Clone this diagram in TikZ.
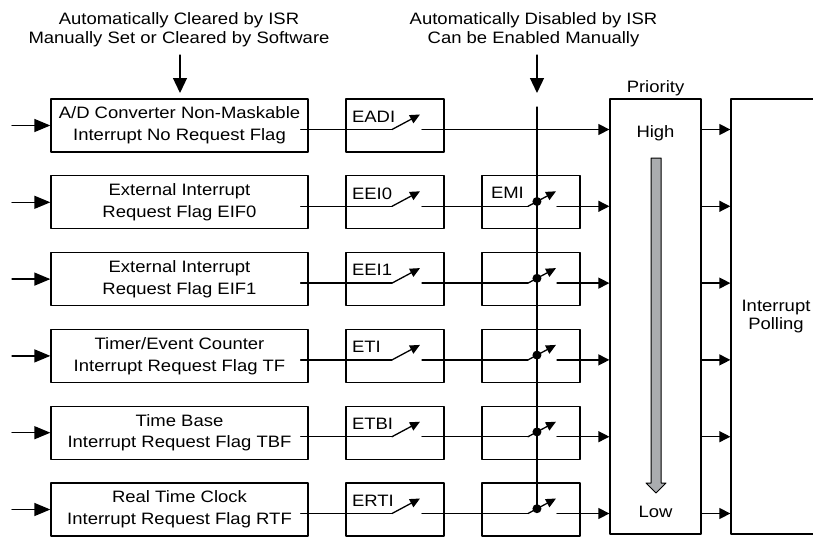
\documentclass[tikz,border=0pt]{standalone}
\usepackage{fontspec}
\setmainfont{Liberation Sans}[FakeStretch=1.12]
\usetikzlibrary{arrows.meta,calc}
\definecolor{prioGray}{RGB}{170,172,175}
\tikzset{
  flagbox/.style={draw, minimum width=257pt, minimum height=53pt, inner sep=0pt, align=center, font=\fontsize{16.5}{21.7}\selectfont},
  swbox/.style={draw, minimum width=98pt, minimum height=53pt, inner sep=0pt},
  swlabel/.style={anchor=base west, inner sep=0pt, font=\fontsize{16.5}{19}\selectfont},
  note/.style={align=center, inner sep=0pt, font=\fontsize{16.5}{19}\selectfont},
  tallbox/.style={draw, minimum width=91pt, minimum height=435pt, inner sep=0pt, align=center, font=\fontsize{16.5}{18}\selectfont},
  arr/.style={-{Triangle[length=11pt,width=11pt]}},
  inarr/.style={-{Triangle[length=16pt,width=13pt]}},
  bigarr/.style={-{Triangle[length=15pt,width=14pt]}},
  swarr/.style={-{Triangle[length=10pt,width=9pt]}}
}
\begin{document}
\begin{tikzpicture}[line cap=round,line join=round,x=1pt,y=-1pt,line width=1.3pt]
\clip (0,0) rectangle (813,538);
% notes on top
\node[note] (clrnote) at (179,29.5) {Automatically Cleared by ISR\\Manually Set or Cleared by Software};
\node[note] (disnote) at (533.5,30) {Automatically Disabled by ISR\\Can be Enabled Manually};
\coordinate (clrtop) at (180,55);
\coordinate (clrend) at (180,93);
\coordinate (distop) at (537,55);
\coordinate (disend) at (537,93);
\coordinate (ven) at (537,107);
\draw[bigarr] (clrtop) -- (clrend);
\draw[bigarr] (distop) -- (disend);
% priority and polling
\node[tallbox] (prio) at (655.5,316.5) {};
\node[anchor=south, inner sep=1.5pt, font=\fontsize{16.5}{19}\selectfont] (priolbl) at (prio.north) {Priority};
\node[font=\fontsize{16.5}{19}\selectfont] (high) at (655.5,133) {High};
\node[font=\fontsize{16.5}{19}\selectfont] (low) at (655.5,511.5) {Low};
\draw[line width=1pt, fill=prioGray] (651,158) -- (661,158) -- (661,483) -- (666,483) -- (656,493) -- (646,483) -- (651,483) -- cycle;
\node[tallbox, minimum width=90pt] (poll) at (776,316.5) {Interrupt\\Polling};
% flag boxes
\node[flagbox] (flag1) at (179.5,125.5) {A/D Converter Non-Maskable\\Interrupt No Request Flag};
\node[flagbox] (flag2) at (179.5,202.3) {External Interrupt\\Request Flag EIF0};
\node[flagbox] (flag3) at (179.5,279.1) {External Interrupt\\Request Flag EIF1};
\node[flagbox] (flag4) at (179.5,355.9) {Timer/Event Counter\\Interrupt Request Flag TF};
\node[flagbox] (flag5) at (179.5,432.7) {Time Base\\Interrupt Request Flag TBF};
\node[flagbox] (flag6) at (179.5,509.5) {Real Time Clock\\Interrupt Request Flag RTF};
% enable boxes
\node[swbox] (sw1) at (395,125.5) {};
\node[swbox] (sw2) at (395,202.3) {};
\node[swbox] (sw3) at (395,279.1) {};
\node[swbox] (sw4) at (395,355.9) {};
\node[swbox] (sw5) at (395,432.7) {};
\node[swbox] (sw6) at (395,509.5) {};
\node[swlabel] (sw1lbl) at ([shift={(6,24)}]sw1.north west) {EADI};
\node[swlabel] (sw2lbl) at ([shift={(6,24)}]sw2.north west) {EEI0};
\node[swlabel] (sw3lbl) at ([shift={(6,24)}]sw3.north west) {EEI1};
\node[swlabel] (sw4lbl) at ([shift={(6,24)}]sw4.north west) {ETI};
\node[swlabel] (sw5lbl) at ([shift={(6,24)}]sw5.north west) {ETBI};
\node[swlabel] (sw6lbl) at ([shift={(6,24)}]sw6.north west) {ERTI};
% EMI boxes
\node[swbox] (emi2) at (531,202.3) {};
\node[swbox] (emi3) at (531,279.1) {};
\node[swbox] (emi4) at (531,355.9) {};
\node[swbox] (emi5) at (531,432.7) {};
\node[swbox] (emi6) at (531,509.5) {};
\node[swlabel] (emilbl) at ([shift={(9,23)}]emi2.north west) {EMI};
% inputs
\coordinate (in1) at (12,125.5);
\coordinate (in2) at (12,202.3);
\coordinate (in3) at (12,279.1);
\coordinate (in4) at (12,355.9);
\coordinate (in5) at (12,432.7);
\coordinate (in6) at (12,509.5);
\draw[inarr] (in1) -- (flag1);
\draw[inarr] (in2) -- (flag2);
\draw[inarr] (in3) -- (flag3);
\draw[inarr] (in4) -- (flag4);
\draw[inarr] (in5) -- (flag5);
\draw[inarr] (in6) -- (flag6);
% contacts of the enable switches
\coordinate (a1) at ([shift={(-3,4)}]sw1.center); \coordinate (t1) at ([shift={(25,-11)}]sw1.center); \coordinate (o1) at ([shift={(27,4)}]sw1.center);
\coordinate (a2) at ([shift={(-3,4)}]sw2.center); \coordinate (t2) at ([shift={(25,-11)}]sw2.center); \coordinate (o2) at ([shift={(27,4)}]sw2.center);
\coordinate (a3) at ([shift={(-3,4)}]sw3.center); \coordinate (t3) at ([shift={(25,-11)}]sw3.center); \coordinate (o3) at ([shift={(27,4)}]sw3.center);
\coordinate (a4) at ([shift={(-3,4)}]sw4.center); \coordinate (t4) at ([shift={(25,-11)}]sw4.center); \coordinate (o4) at ([shift={(27,4)}]sw4.center);
\coordinate (a5) at ([shift={(-3,4)}]sw5.center); \coordinate (t5) at ([shift={(25,-11)}]sw5.center); \coordinate (o5) at ([shift={(27,4)}]sw5.center);
\coordinate (a6) at ([shift={(-3,4)}]sw6.center); \coordinate (t6) at ([shift={(25,-11)}]sw6.center); \coordinate (o6) at ([shift={(27,4)}]sw6.center);
\draw ([shift={(-8,4)}]flag1.east) -- (a1); \draw[swarr] (a1) -- (t1);
\draw ([shift={(-8,4)}]flag2.east) -- (a2); \draw[swarr] (a2) -- (t2);
\draw ([shift={(-8,4)}]flag3.east) -- (a3); \draw[swarr] (a3) -- (t3);
\draw ([shift={(-8,4)}]flag4.east) -- (a4); \draw[swarr] (a4) -- (t4);
\draw ([shift={(-8,4)}]flag5.east) -- (a5); \draw[swarr] (a5) -- (t5);
\draw ([shift={(-8,4)}]flag6.east) -- (a6); \draw[swarr] (a6) -- (t6);
% contacts of the EMI switches
\coordinate (ea2) at ([shift={(-3,4)}]emi2.center); \coordinate (et2) at ([shift={(25,-11)}]emi2.center); \coordinate (eo2) at ([shift={(26,4)}]emi2.center);
\coordinate (ea3) at ([shift={(-3,4)}]emi3.center); \coordinate (et3) at ([shift={(25,-11)}]emi3.center); \coordinate (eo3) at ([shift={(26,4)}]emi3.center);
\coordinate (ea4) at ([shift={(-3,4)}]emi4.center); \coordinate (et4) at ([shift={(25,-11)}]emi4.center); \coordinate (eo4) at ([shift={(26,4)}]emi4.center);
\coordinate (ea5) at ([shift={(-3,4)}]emi5.center); \coordinate (et5) at ([shift={(25,-11)}]emi5.center); \coordinate (eo5) at ([shift={(26,4)}]emi5.center);
\coordinate (ea6) at ([shift={(-3,4)}]emi6.center); \coordinate (et6) at ([shift={(25,-11)}]emi6.center); \coordinate (eo6) at ([shift={(26,4)}]emi6.center);
\draw (o2) -- (ea2); \draw[swarr] (ea2) -- (et2);
\draw (o3) -- (ea3); \draw[swarr] (ea3) -- (et3);
\draw (o4) -- (ea4); \draw[swarr] (ea4) -- (et4);
\draw (o5) -- (ea5); \draw[swarr] (ea5) -- (et5);
\draw (o6) -- (ea6); \draw[swarr] (ea6) -- (et6);
\coordinate (dot2) at ($(ea2)!0.32!(et2)$);
\coordinate (dot3) at ($(ea3)!0.32!(et3)$);
\coordinate (dot4) at ($(ea4)!0.32!(et4)$);
\coordinate (dot5) at ($(ea5)!0.32!(et5)$);
\coordinate (dot6) at ($(ea6)!0.32!(et6)$);
\draw (ven) -- (ven |- dot6);
\fill (dot2) circle (4.5pt);
\fill (dot3) circle (4.5pt);
\fill (dot4) circle (4.5pt);
\fill (dot5) circle (4.5pt);
\fill (dot6) circle (4.5pt);
% into priority and polling
\draw[arr] (o1) -- (o1 -| prio.west);
\draw[arr] (eo2) -- (eo2 -| prio.west);
\draw[arr] (eo3) -- (eo3 -| prio.west);
\draw[arr] (eo4) -- (eo4 -| prio.west);
\draw[arr] (eo5) -- (eo5 -| prio.west);
\draw[arr] (eo6) -- (eo6 -| prio.west);
\draw[arr] (prio.east |- o1) -- (poll.west |- o1);
\draw[arr] (prio.east |- eo2) -- (poll.west |- eo2);
\draw[arr] (prio.east |- eo3) -- (poll.west |- eo3);
\draw[arr] (prio.east |- eo4) -- (poll.west |- eo4);
\draw[arr] (prio.east |- eo5) -- (poll.west |- eo5);
\draw[arr] (prio.east |- eo6) -- (poll.west |- eo6);
\end{tikzpicture}
\end{document}
